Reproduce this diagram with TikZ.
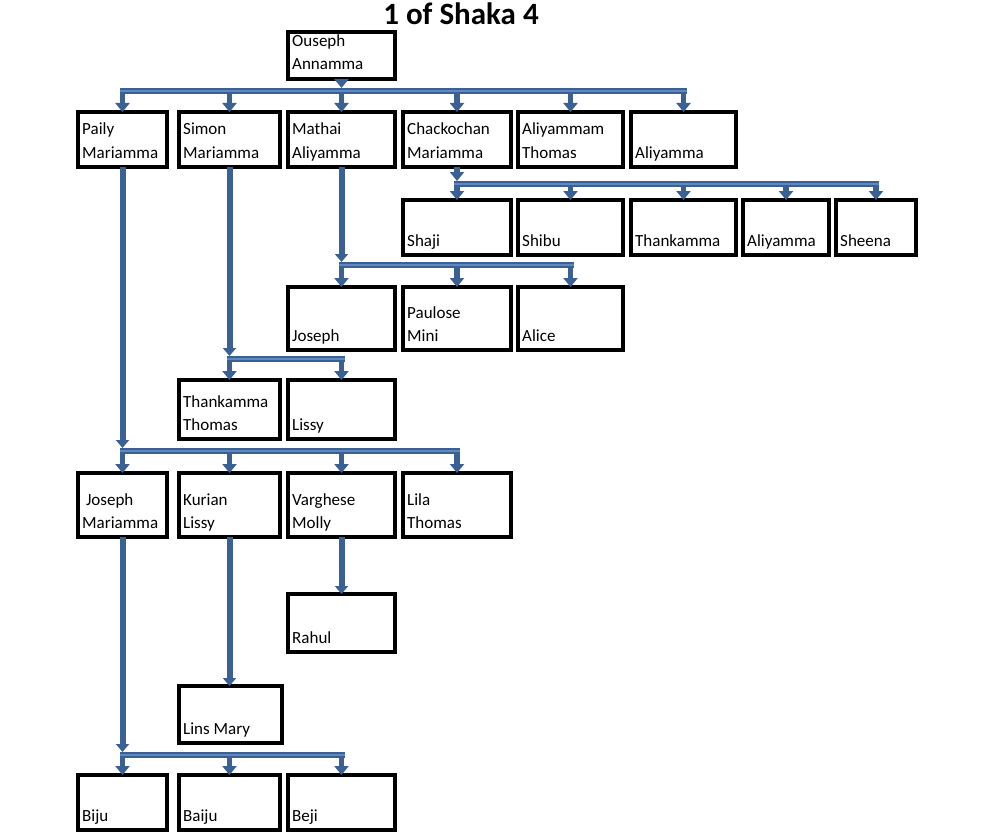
\documentclass[tikz,border=0pt]{standalone}
\usepackage{fontspec}
\setmainfont{Carlito}
\usetikzlibrary{arrows.meta}
\definecolor{busdark}{HTML}{3B6194}
\definecolor{buslight}{HTML}{5E88BF}
\newcommand\pbox[7]{%
  \node[pboxstyle, minimum width={(#4-#2)*1pt}, minimum height={(#5-#3)*1pt}, anchor=north west] (#1) at (#2,#3) {};
  \if\relax\detokenize{#6}\relax\else
    \node[ptext] (#1-a) at (#2+4,#5-32) {#6};
  \fi
  \node[ptext] (#1-b) at (#2+4,#5-9) {#7};
}
\tikzset{
  pboxstyle/.style={draw=black, line width=3.2pt, fill=white, inner sep=0pt, outer sep=0pt},
  ptext/.style={anchor=base west, inner sep=0pt, font=\fontsize{17}{20}\selectfont},
  bus/.style={draw=busdark, line width=2.2pt, double=buslight, double distance=2.4pt, shorten <=-3pt, shorten >=-3pt},
  drop/.style={draw=busdark, line width=5.5pt, -{Triangle[width=14pt,length=9pt]}},
  vline/.style={draw=busdark, line width=6pt, -{Triangle[width=13pt,length=8pt]}},
}
\begin{document}
\begin{tikzpicture}[x=1pt,y=-1pt]
\useasboundingbox (0,0) rectangle (1000,832);
\node[font=\bfseries\fontsize{31}{36}\selectfont, anchor=base] (title) at (461,25) {1 of Shaka 4};
\pbox{ous}{288}{32}{395}{79}{Ouseph}{Annamma}
\pbox{pai}{78}{112}{167}{167}{Paily}{Mariamma}
\pbox{sim}{179}{112}{280}{167}{Simon}{Mariamma}
\pbox{mat}{288}{112}{395}{167}{Mathai}{Aliyamma}
\pbox{cha}{403}{112}{511}{167}{Chackochan}{Mariamma}
\pbox{alt}{518}{112}{623}{167}{Aliyammam}{Thomas}
\pbox{aly}{631}{112}{736}{167}{}{Aliyamma}
\pbox{sha}{403}{200}{511}{255}{}{Shaji}
\pbox{shi}{518}{200}{623}{255}{}{Shibu}
\pbox{tha}{631}{200}{736}{255}{}{Thankamma}
\pbox{alb}{743}{200}{829}{255}{}{Aliyamma}
\pbox{she}{836}{200}{916}{255}{}{Sheena}
\pbox{jos}{288}{287}{395}{350}{}{Joseph}
\pbox{pau}{403}{287}{511}{350}{Paulose}{Mini}
\pbox{ali}{518}{287}{623}{350}{}{Alice}
\pbox{tht}{179}{380}{280}{439}{Thankamma}{Thomas}
\pbox{lis}{288}{380}{395}{439}{}{Lissy}
\pbox{jma}{78}{473}{167}{537}{\ Joseph}{Mariamma}
\pbox{kur}{179}{473}{280}{537}{Kurian}{Lissy}
\pbox{var}{288}{473}{395}{537}{Varghese}{Molly}
\pbox{lil}{403}{473}{511}{537}{Lila}{Thomas}
\pbox{rah}{288}{594}{395}{652}{}{Rahul}
\pbox{lin}{179}{686}{282}{743}{}{Lins Mary}
\pbox{bij}{78}{775}{167}{830}{}{Biju}
\pbox{bai}{179}{775}{280}{830}{}{Baiju}
\pbox{bej}{288}{775}{395}{830}{}{Beji}
% Ouseph family
\draw[drop] (ous.south) -- (ous.south |- 0,88);
\foreach \c in {pai,sim,mat,cha,alt,aly} \draw[drop] (\c.north |- 0,91) -- (\c.north);
\draw[bus] (pai.north |- 0,91) -- (aly.north |- 0,91);
% Chackochan family
\draw[drop] (cha.south) -- (cha.south |- 0,181);
\foreach \c in {sha,shi,tha,alb,she} \draw[drop] (\c.north |- 0,184) -- (\c.north);
\draw[bus] (sha.north |- 0,184) -- (she.north |- 0,184);
% Mathai family
\draw[vline] (mat.south) -- (mat.south |- 0,262);
\foreach \c in {jos,pau,ali} \draw[drop] (\c.north |- 0,265) -- (\c.north);
\draw[bus] (jos.north |- 0,265) -- (ali.north |- 0,265);
% Simon family
\draw[vline] (sim.south) -- (sim.south |- 0,356);
\foreach \c in {tht,lis} \draw[drop] (\c.north |- 0,359) -- (\c.north);
\draw[bus] (tht.north |- 0,359) -- (lis.north |- 0,359);
% Paily family
\draw[vline] (pai.south) -- (pai.south |- 0,448);
\foreach \c in {jma,kur,var,lil} \draw[drop] (\c.north |- 0,451) -- (\c.north);
\draw[bus] (jma.north |- 0,451) -- (lil.north |- 0,451);
% Varghese, Kurian
\draw[vline] (var.south) -- (rah.north);
\draw[vline] (kur.south) -- (kur.south |- lin.north);
% Joseph Mariamma family
\draw[vline] (jma.south) -- (jma.south |- 0,752);
\foreach \c in {bij,bai,bej} \draw[drop] (\c.north |- 0,755) -- (\c.north);
\draw[bus] (bij.north |- 0,755) -- (bej.north |- 0,755);
\end{tikzpicture}
\end{document}
